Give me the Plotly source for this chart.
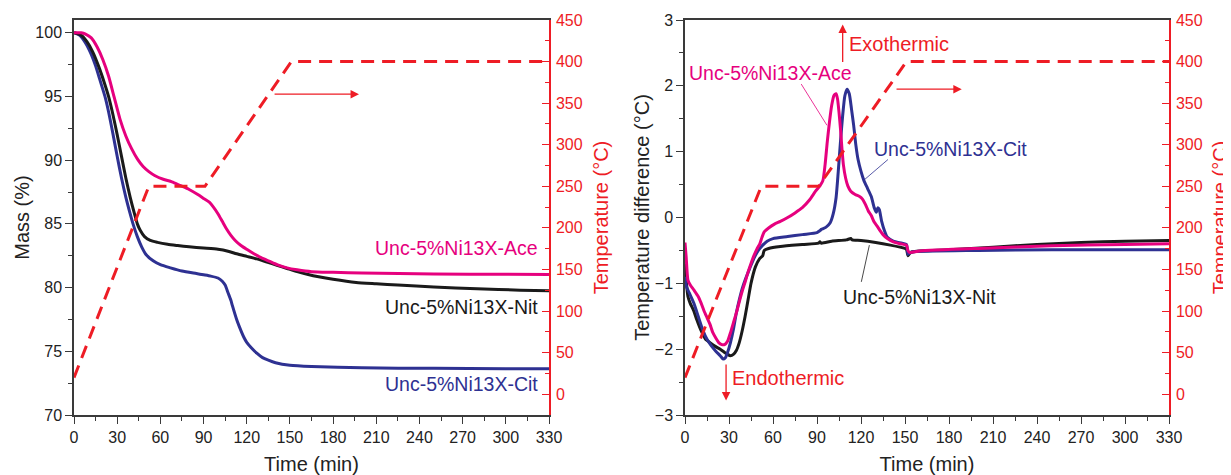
import plotly.graph_objects as go

# ---------------- data ----------------
# Left panel: TGA mass (%) vs time (min)
cit_mass_t = [0, 4, 8, 12, 15, 18, 21.5, 24, 27, 30, 33, 36, 39, 41, 44, 47, 50, 55, 60, 67, 75, 85, 90, 95,
              100, 103, 105, 107, 109, 110, 113, 115, 118, 120, 123, 127, 131, 135, 140, 150, 165, 200, 250, 300, 330]
cit_mass = [100, 99.8, 99.2, 98.3, 97.4, 96.3, 95.0, 93.8, 92.1, 90.3, 88.6, 87.1, 85.8, 85.0, 84.0, 83.2, 82.6,
            82.1, 81.8, 81.55, 81.3, 81.1, 81.0, 80.9, 80.75, 80.5, 80.2, 79.6, 79.0, 78.6, 77.5, 76.9, 76.1, 75.7,
            75.3, 74.85, 74.5, 74.3, 74.1, 73.9, 73.8, 73.7, 73.66, 73.63, 73.62]

nit_mass_t = [0, 5, 9, 13, 17, 21, 24, 27, 30, 33, 36, 39, 42, 44, 46, 49, 53, 58, 65, 72, 80, 90, 100, 107, 113,
              120, 127, 134, 141, 148, 155, 162, 170, 180, 196, 210, 225, 250, 280, 310, 330]
nit_mass = [100, 99.8, 99.3, 98.5, 97.4, 96.1, 95.0, 93.6, 92.0, 90.3, 88.6, 87.1, 85.8, 85.0, 84.5, 84.0, 83.7,
            83.55, 83.4, 83.3, 83.2, 83.1, 83.0, 82.85, 82.65, 82.45, 82.25, 82.0, 81.75, 81.5, 81.25, 81.05, 80.85,
            80.65, 80.4, 80.3, 80.2, 80.05, 79.9, 79.8, 79.75]

ace_mass_t = [0, 5, 8, 12, 16, 20, 24, 28, 32, 36, 40, 44, 48, 52, 56, 62, 68, 74, 80, 86, 90, 94, 97, 100, 103,
              106, 109, 112, 116, 120, 125, 130, 136, 141, 148, 155, 165, 180, 200, 250, 300, 330]
ace_mass = [100, 100, 99.9, 99.6, 98.9, 97.9, 96.6, 94.9, 93.2, 91.9, 90.9, 90.1, 89.5, 89.1, 88.8, 88.5, 88.3,
            88.0, 87.7, 87.3, 87.0, 86.7, 86.3, 85.8, 85.2, 84.6, 84.1, 83.7, 83.3, 83.0, 82.65, 82.35, 82.05, 81.8,
            81.55, 81.4, 81.25, 81.2, 81.15, 81.07, 81.04, 81.03]

# Furnace temperature programme (°C)
temp_t = [0, 52, 91, 151, 330]
temp_c = [20, 250, 250, 400, 400]

# Right panel: DTA temperature difference (°C)
nit_dta_t = [0, 1, 2, 3.5, 6, 8, 11, 14, 17, 20, 24, 27, 29, 31, 33, 35, 37, 39, 41, 43, 45, 48, 51, 53, 54, 57,
             65, 80, 91, 92, 93, 100, 110, 113, 114, 120, 130, 140, 150, 151, 152, 153, 155, 180, 210, 240, 270,
             300, 330]
nit_dta = [-0.7, -1.0, -1.2, -1.3, -1.42, -1.55, -1.72, -1.85, -1.9, -1.95, -2.0, -2.05, -2.08, -2.1, -2.08,
           -2.02, -1.9, -1.72, -1.5, -1.25, -1.0, -0.75, -0.62, -0.58, -0.5, -0.47, -0.44, -0.41, -0.39, -0.37,
           -0.39, -0.36, -0.34, -0.32, -0.34, -0.35, -0.38, -0.42, -0.47, -0.48, -0.58, -0.55, -0.52, -0.49,
           -0.45, -0.41, -0.38, -0.36, -0.35]

cit_dta_t = [0, 1, 3, 6, 9, 12, 15, 18, 21, 24, 26, 27.5, 29, 31, 33, 35, 37, 39, 41, 44, 47, 50, 53, 56, 60, 70,
             80, 90, 92, 93, 96, 99, 101, 103, 104.5, 106, 107.5, 109, 110.5, 112, 113.5, 115, 116.5, 118, 120,
             122, 124.5, 127, 129, 130.5, 131.5, 132.5, 134, 136, 138, 142, 148, 151, 152, 153, 156, 200, 250, 330]
cit_dta = [-0.9, -1.05, -1.15, -1.3, -1.5, -1.7, -1.85, -1.95, -2.03, -2.1, -2.15, -2.13, -2.05, -1.9, -1.7,
           -1.45, -1.25, -1.08, -0.95, -0.78, -0.62, -0.5, -0.42, -0.36, -0.32, -0.29, -0.26, -0.23, -0.2, -0.18,
           -0.15, -0.08, 0.05, 0.3, 0.7, 1.15, 1.55, 1.85, 1.95, 1.88, 1.65, 1.4, 1.1, 0.88, 0.7, 0.56, 0.44,
           0.32, 0.15, 0.08, 0.15, 0.12, -0.05, -0.2, -0.3, -0.36, -0.39, -0.41, -0.56, -0.54, -0.52, -0.5,
           -0.49, -0.49]

ace_dta_t = [0, 0.8, 2, 3.5, 6, 9, 11, 13, 15, 17, 19, 21, 23, 25, 27, 29, 31, 33, 35, 37, 39, 41, 43, 45, 47, 49,
             51, 52.5, 54, 57, 61, 65, 70, 75, 80, 85, 89, 92, 94, 95.5, 97, 98.5, 100, 101.5, 103, 104, 105, 106,
             107, 108, 109.5, 111, 113, 116, 119, 121, 123, 125, 127, 129, 131, 133, 135, 138, 142, 147, 151, 152,
             153, 160, 200, 250, 300, 330]
ace_dta = [-0.38, -0.6, -0.95, -1.02, -1.1, -1.2, -1.3, -1.42, -1.52, -1.62, -1.75, -1.83, -1.9, -1.93, -1.93,
           -1.88, -1.75, -1.6, -1.45, -1.28, -1.12, -0.98, -0.83, -0.7, -0.58, -0.48, -0.4, -0.3, -0.22, -0.16,
           -0.1, -0.06, 0.0, 0.07, 0.15, 0.27, 0.4, 0.48, 0.56, 0.8, 1.15, 1.45, 1.7, 1.85, 1.88, 1.8, 1.6, 1.35,
           1.05, 0.8, 0.6, 0.48, 0.4, 0.35, 0.32, 0.28, 0.2, 0.1, 0.03, -0.07, -0.13, -0.2, -0.26, -0.32, -0.37,
           -0.4, -0.42, -0.5, -0.53, -0.51, -0.47, -0.43, -0.41, -0.4]

# tick labels
time_ticks = [0, 30, 60, 90, 120, 150, 180, 210, 240, 270, 300, 330]
mass_ticks = [70, 75, 80, 85, 90, 95, 100]
temp_ticks = [0, 50, 100, 150, 200, 250, 300, 350, 400, 450]
dta_ticks = [-3, -2, -1, 0, 1, 2, 3]

sample_names = ["Unc-5%Ni13X-Ace", "Unc-5%Ni13X-Nit", "Unc-5%Ni13X-Cit"]

# ---------------- styles ----------------
MAG = "#E6007E"
BLU = "#2E3192"
BLK = "#1A1A1A"
RED = "#EE1C25"
AXC = "#3A3A3A"
FONT = "Liberation Sans, Arial, sans-serif"

# page has an 8 px body margin -> figure is 16 px smaller than the window
W, H = 1223, 467

fig = go.Figure()


def line(x, y, color, xa, ya, width=3, dash=None, shape="spline"):
    fig.add_trace(go.Scatter(x=x, y=y, mode="lines", xaxis=xa, yaxis=ya,
                             line=dict(color=color, width=width, dash=dash, shape=shape, smoothing=0.6),
                             showlegend=False, hoverinfo="skip"))


# left panel
line(temp_t, temp_c, RED, "x", "y2", 3, "13px,8px", "linear")
line(cit_mass_t, cit_mass, BLU, "x", "y")
line(nit_mass_t, nit_mass, BLK, "x", "y")
line(ace_mass_t, ace_mass, MAG, "x", "y")

# right panel
line(temp_t, temp_c, RED, "x2", "y4", 3, "13px,8px", "linear")
line(nit_dta_t, nit_dta, BLK, "x2", "y3")
line(cit_dta_t, cit_dta, BLU, "x2", "y3")
line(ace_dta_t, ace_dta, MAG, "x2", "y3")

tickfont = dict(family=FONT, size=16, color="#222")
redfont = dict(family=FONT, size=16, color=RED)
titlefont = dict(family=FONT, size=20, color="#222")
redtitle = dict(family=FONT, size=20, color=RED)


def xax(domain, anchor):
    return dict(domain=domain, anchor=anchor, range=[0, 330], tickmode="array", tickvals=time_ticks,
                ticks="outside", ticklen=7, tickwidth=1.3, tickcolor=AXC,
                minor=dict(ticks="outside", ticklen=4, dtick=15, tick0=0, tickcolor=AXC, tickwidth=1.2),
                showline=True, linecolor=AXC, linewidth=1.5, mirror=True,
                showgrid=False, zeroline=False, tickfont=tickfont, automargin=False,
                title=dict(text="Time (min)", font=titlefont, standoff=13))


def yleft(rng, tv, mdt, title, anchor, standoff):
    return dict(anchor=anchor, range=rng, tickmode="array", tickvals=tv, ticks="outside", ticklen=7,
                tickwidth=1.3, tickcolor=AXC,
                minor=dict(ticks="outside", ticklen=4, dtick=mdt, tick0=0, tickcolor=AXC, tickwidth=1.2),
                showline=True, linecolor=AXC, linewidth=1.5, showgrid=False, zeroline=False,
                tickfont=tickfont, automargin=False,
                title=dict(text=title, font=titlefont, standoff=standoff))


def yright(anchor, over):
    return dict(anchor=anchor, overlaying=over, side="right", range=[-25, 450], tickmode="array",
                tickvals=temp_ticks, ticks="inside", ticklen=7, tickwidth=1.3, tickcolor=RED,
                minor=dict(ticks="inside", ticklen=4, dtick=25, tick0=0, tickcolor=RED, tickwidth=1.2),
                showline=True, linecolor=RED, linewidth=1.5, showgrid=False, zeroline=False,
                tickfont=redfont, ticklabelstandoff=2, automargin=False,
                title=dict(text="Temperature (°C)", font=redtitle, standoff=12))


fig.update_layout(
    width=W, height=H,
    margin=dict(l=0, r=0, t=12, b=60),
    paper_bgcolor="white", plot_bgcolor="white",
    font=dict(family=FONT),
    xaxis=xax([66 / W, 541 / W], "y"),
    yaxis=yleft([70, 101], mass_ticks, 2.5, "Mass (%)", "x", 0),
    yaxis2=yright("x", "y"),
    xaxis2=xax([677 / W, 1161 / W], "y3"),
    yaxis3=yleft([-3, 3], dta_ticks, 0.5, "Temperature difference (°C)", "x2", 0),
    yaxis4=yright("x2", "y3"),
)

# ---------------- annotations ----------------
lab = dict(family=FONT, size=19.5)
ann = []
# left panel sample labels
ann.append(dict(x=323.7, y=83.08, xref="x", yref="y", text=sample_names[0], showarrow=False,
                xanchor="right", yanchor="middle", font=dict(lab, color=MAG)))
ann.append(dict(x=323.7, y=78.5, xref="x", yref="y", text=sample_names[1], showarrow=False,
                xanchor="right", yanchor="middle", font=dict(lab, color=BLK)))
ann.append(dict(x=323.7, y=72.43, xref="x", yref="y", text=sample_names[2], showarrow=False,
                xanchor="right", yanchor="middle", font=dict(lab, color=BLU)))
# left panel arrow -> temperature axis
ann.append(dict(x=198, y=360.8, ax=138.3, ay=360.8, xref="x", yref="y2", axref="x", ayref="y2",
                text="", showarrow=True, arrowhead=2, arrowsize=1.3, arrowwidth=1.3, arrowcolor=RED))
# right panel sample labels
ann.append(dict(x=58, y=2.19, xref="x2", yref="y3", text=sample_names[0], showarrow=False,
                xanchor="center", yanchor="middle", font=dict(lab, color=MAG)))
ann.append(dict(x=181, y=1.04, xref="x2", yref="y3", text=sample_names[2], showarrow=False,
                xanchor="center", yanchor="middle", font=dict(lab, color=BLU)))
ann.append(dict(x=159.6, y=-1.2, xref="x2", yref="y3", text=sample_names[1], showarrow=False,
                xanchor="center", yanchor="middle", font=dict(lab, color=BLK)))
# leader lines
for (x0, y0, x1, y1, c) in [(78.6, 2.05, 96.8, 1.40, MAG), (139.4, 0.90, 122.1, 0.57, BLU),
                            (120.0, -1.0, 125.7, -0.42, BLK)]:
    ann.append(dict(x=x1, y=y1, ax=x0, ay=y0, xref="x2", yref="y3", axref="x2", ayref="y3", text="",
                    showarrow=True, arrowhead=0, arrowwidth=0.8, arrowcolor=c))
# exo / endo
ann.append(dict(x=107.5, y=2.93, ax=107.5, ay=2.34, xref="x2", yref="y3", axref="x2", ayref="y3",
                text="", showarrow=True, arrowhead=2, arrowsize=1.3, arrowwidth=1.3, arrowcolor=RED))
ann.append(dict(x=110.2, y=2.64, xref="x2", yref="y3", text="Exothermic", showarrow=False,
                xanchor="left", yanchor="middle", font=dict(family=FONT, size=20, color=RED)))
ann.append(dict(x=28, y=-2.78, ax=28, ay=-2.21, xref="x2", yref="y3", axref="x2", ayref="y3",
                text="", showarrow=True, arrowhead=2, arrowsize=1.3, arrowwidth=1.3, arrowcolor=RED))
ann.append(dict(x=30.7, y=-2.44, xref="x2", yref="y3", text="Endothermic", showarrow=False,
                xanchor="left", yanchor="middle", font=dict(family=FONT, size=20, color=RED)))
# right panel arrow -> temperature axis
ann.append(dict(x=188.7, y=366.8, ax=143.2, ay=366.8, xref="x2", yref="y4", axref="x2", ayref="y4",
                text="", showarrow=True, arrowhead=2, arrowsize=1.3, arrowwidth=1.3, arrowcolor=RED))

fig.update_layout(annotations=ann)

fig.write_html("out.html")
